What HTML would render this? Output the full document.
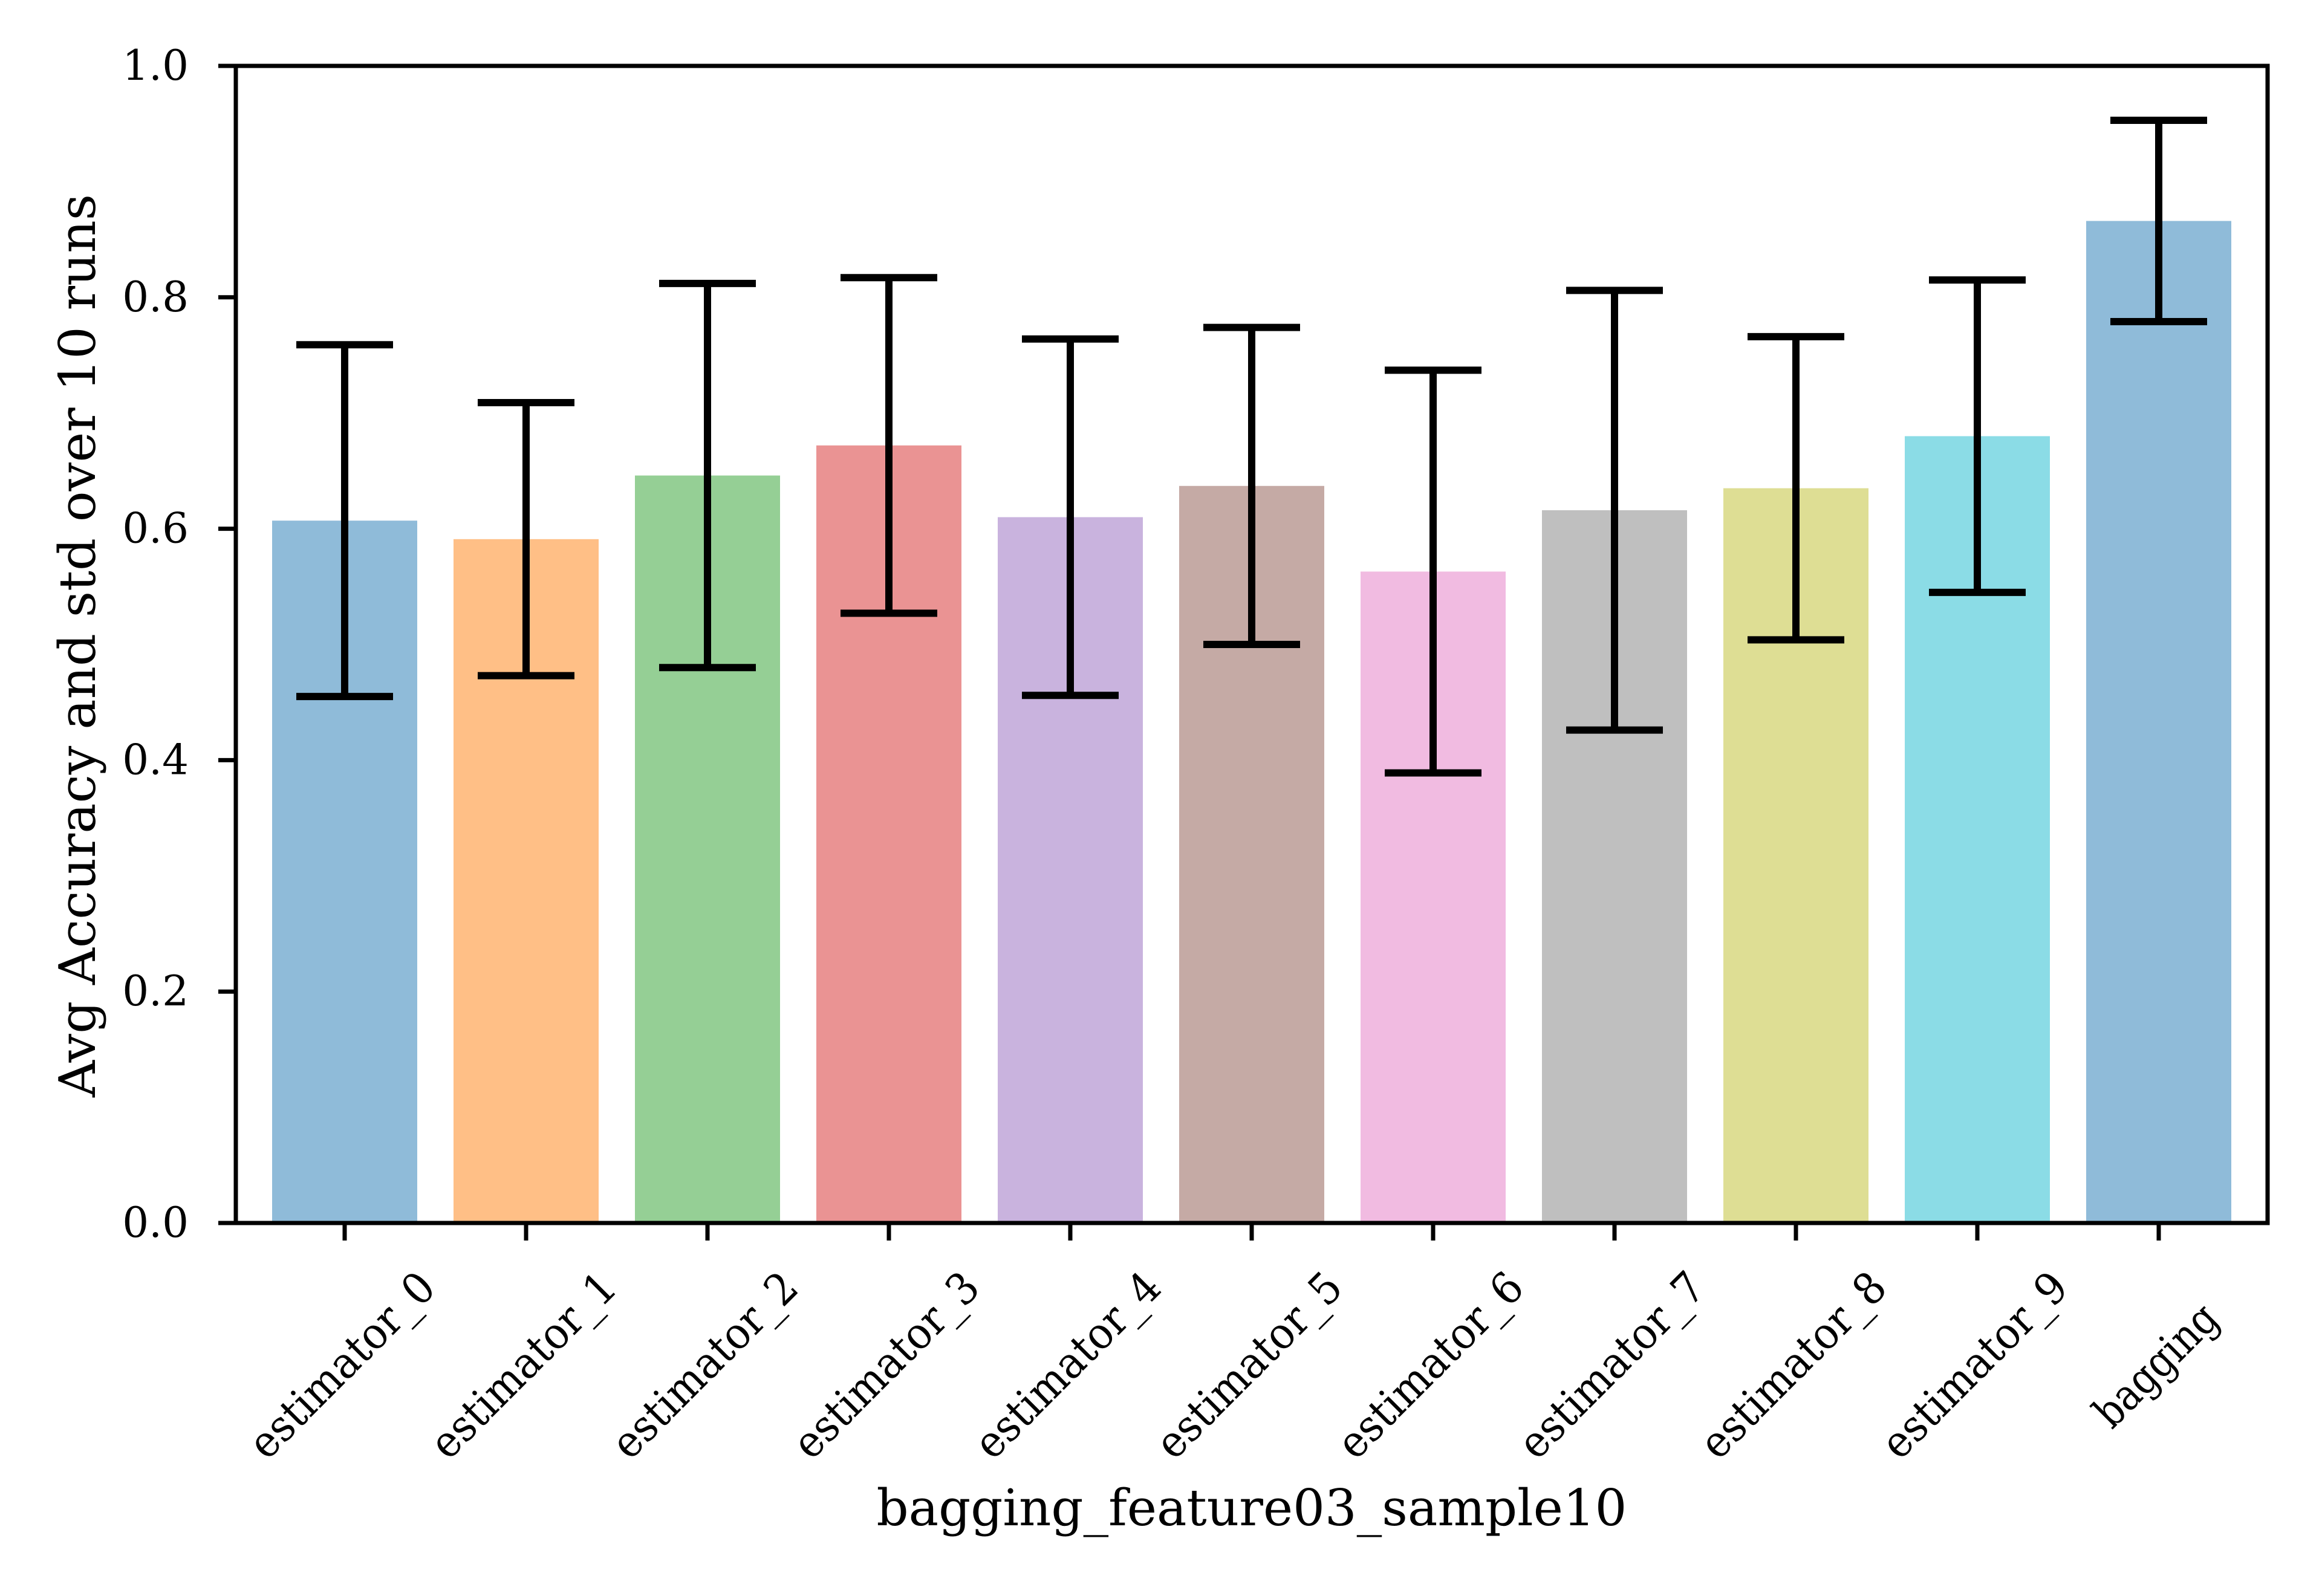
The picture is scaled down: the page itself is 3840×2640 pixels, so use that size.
<!DOCTYPE html>
<html><head><meta charset="utf-8"><style>
html,body{margin:0;padding:0;background:#fff;}
svg{display:block;}
text{font-family:"DejaVu Serif","Liberation Serif",serif;fill:#000;}
</style></head><body>
<svg id="chart" width="3840" height="2640" viewBox="0 0 3840 2640" xmlns="http://www.w3.org/2000/svg">
<rect x="0" y="0" width="3840" height="2640" fill="#fff"/>
<g id="plot"></g>
<text x="2070" y="2523" font-size="83" text-anchor="middle" textLength="1241" lengthAdjust="spacingAndGlyphs">bagging_feature03_sample10</text>
<text transform="translate(157,1068) rotate(-90)" font-size="83" text-anchor="middle" textLength="1494" lengthAdjust="spacingAndGlyphs">Avg Accuracy and std over 10 runs</text>
</svg>
<script>
const categories = ["estimator_0","estimator_1","estimator_2","estimator_3","estimator_4","estimator_5","estimator_6","estimator_7","estimator_8","estimator_9","bagging"];
const means = [0.607,0.591,0.646,0.672,0.610,0.637,0.563,0.616,0.635,0.680,0.866];
const stds = [0.152,0.118,0.166,0.145,0.154,0.137,0.174,0.190,0.131,0.135,0.087];
const yTicks = [0.0,0.2,0.4,0.6,0.8,1.0];
const yTickLabels = ["0.0","0.2","0.4","0.6","0.8","1.0"];
const colors = ["#8fbbd9","#ffbf86","#95cf95","#ea9393","#c9b3de","#c5aaa5","#f1bbe1","#bfbfbf","#dede94","#8bdce6","#8fbbd9"];

const NS = "http://www.w3.org/2000/svg";
const L = 390, R = 3750, T = 109, B = 2023;
const xMin = -0.6, xMax = categories.length - 0.4;
function xs(v){ return L + (v - xMin) / (xMax - xMin) * (R - L); }
function ys(v){ return B - v * (B - T); }
const g = document.getElementById('plot');
function mk(tag, attrs){ const e = document.createElementNS(NS, tag); for (const k in attrs) e.setAttribute(k, attrs[k]); g.appendChild(e); return e; }

categories.forEach((c, i) => {
  const x0 = xs(i - 0.4), x1 = xs(i + 0.4);
  const bar = mk('rect', {x: x0, y: ys(means[i]), width: x1 - x0, height: ys(0) - ys(means[i]), fill: colors[i]});
  
  
});
categories.forEach((c, i) => {
  const cx = xs(i), lo = ys(means[i] - stds[i]), hi = ys(means[i] + stds[i]);
  const eg = mk('g', {stroke: '#000', 'stroke-width': 12, fill: 'none'});
  
  
  [[cx, lo, cx, hi], [cx - 80, lo, cx + 80, lo], [cx - 80, hi, cx + 80, hi]].forEach(p => {
    const l = document.createElementNS(NS, 'line');
    l.setAttribute('x1', p[0]); l.setAttribute('y1', p[1]); l.setAttribute('x2', p[2]); l.setAttribute('y2', p[3]);
    eg.appendChild(l);
  });
  const tk = mk('line', {x1: cx, y1: B, x2: cx, y2: B + 29, stroke: '#000', 'stroke-width': 7});
  
  
  const t = mk('text', {transform: 'translate(' + (cx - 5) + ',2258) rotate(-45)', 'font-size': 72, 'text-anchor': 'middle', 'dominant-baseline': 'central', textLength: c === 'bagging' ? 255 : 400, lengthAdjust: 'spacingAndGlyphs'});
  t.textContent = c;
  
  
});
yTicks.forEach((v, i) => {
  const y = ys(v);
  const tk = mk('line', {x1: L - 29, y1: y, x2: L, y2: y, stroke: '#000', 'stroke-width': 7});
  
  
  const t = mk('text', {x: 312, y: y, 'font-size': 69, 'text-anchor': 'end', 'dominant-baseline': 'central'});
  t.textContent = yTickLabels[i];
  
  
});
const frame = mk('rect', {x: L, y: T, width: R - L, height: B - T, fill: 'none', stroke: '#000', 'stroke-width': 7});


</script>
</body></html>
